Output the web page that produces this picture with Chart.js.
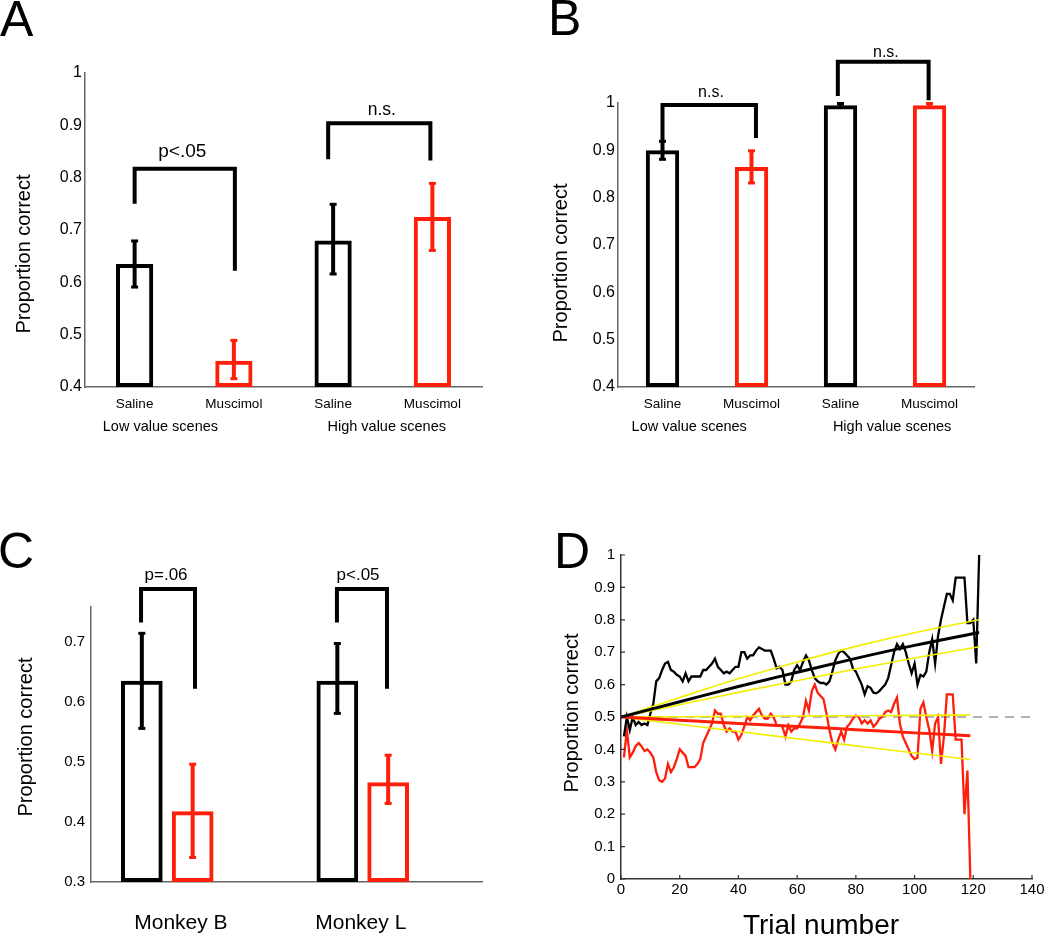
<!DOCTYPE html>
<html>
<head>
<meta charset="utf-8">
<script src="https://cdn.jsdelivr.net/npm/chart.js@4.4.0/dist/chart.umd.min.js"></script>
<style>
  body { margin: 0; background: #fff; }
  #fig { position: relative; width: 1050px; height: 937px; overflow: hidden; background: #fff; }
  canvas { position: absolute; }
  .letter { position: absolute; font: 50px/50px 'Liberation Sans', Arial, sans-serif; color: #000; }
</style>
</head>
<body>
<div id="fig">
  <canvas id="chartA" width="520" height="460" style="left:0;top:0"></canvas>
  <canvas id="chartB" width="530" height="460" style="left:520px;top:0"></canvas>
  <canvas id="chartC" width="520" height="417" style="left:0;top:520px"></canvas>
  <canvas id="chartD" width="530" height="417" style="left:520px;top:520px"></canvas>
  <div class="letter" style="left:0;top:-6px">A</div>
  <div class="letter" style="left:548px;top:-7px">B</div>
  <div class="letter" style="left:-2px;top:526px">C</div>
  <div class="letter" style="left:554px;top:526px">D</div>
</div>
<script>
// panels A and B: saline vs muscimol, low and high value scenes
const condLabels = ['Saline', 'Muscimol', 'Saline', 'Muscimol']
const propA = [0.635, 0.45, 0.68, 0.725]
const errLoA = [0.59, 0.415, 0.615, 0.66]
const errHiA = [0.68, 0.49, 0.75, 0.79]
const propB = [0.9, 0.865, 0.995, 0.995]
const errLoB = [0.88, 0.83, 0.99, 0.99]
const errHiB = [0.92, 0.9, 1.0, 1.0]
const yTicksAB = [0.4, 0.5, 0.6, 0.7, 0.8, 0.9, 1]

// panel C: per monkey
const monkeys = ['Monkey B', 'Monkey L']
const monkeyX = [1, 2]
const salineC = [0.635, 0.635]
const salineLoC = [0.555, 0.58]
const salineHiC = [0.715, 0.698]
const muscC = [0.418, 0.466]
const muscLoC = [0.34, 0.43]
const muscHiC = [0.497, 0.512]
const yTicksC = [0.3, 0.4, 0.5, 0.6, 0.7]

// panel D: running proportion correct by trial (trial 1..n)
const blackD = [
  0.44, 0.50, 0.46, 0.50, 0.475, 0.485, 0.475, 0.48, 0.475, 0.51,
  0.54, 0.61, 0.62, 0.645, 0.665, 0.67, 0.645, 0.64, 0.63, 0.625,
  0.61, 0.635, 0.61, 0.625, 0.625, 0.625, 0.625, 0.645, 0.645, 0.655,
  0.665, 0.68, 0.655, 0.645, 0.635, 0.64, 0.635, 0.645, 0.655, 0.655,
  0.70, 0.70, 0.68, 0.69, 0.69, 0.705, 0.715, 0.71, 0.705, 0.705,
  0.705, 0.68, 0.65, 0.655, 0.645, 0.60, 0.60, 0.61, 0.645, 0.66,
  0.645, 0.67, 0.69, 0.675, 0.645, 0.62, 0.61, 0.605, 0.605, 0.60,
  0.61, 0.64, 0.675, 0.695, 0.705, 0.70, 0.69, 0.68, 0.65, 0.64,
  0.62, 0.60, 0.57, 0.595, 0.59, 0.575, 0.573, 0.58, 0.59, 0.60,
  0.62, 0.66, 0.70, 0.725, 0.71, 0.725, 0.70, 0.665, 0.635, 0.665,
  0.60, 0.63, 0.625, 0.64, 0.70, 0.74, 0.665, 0.75, 0.80, 0.84,
  0.88, 0.88, 0.86, 0.93, 0.93, 0.93, 0.93, 0.79, 0.79, 0.80,
  0.665, 1.0,
]
const redD = [
  0.375, 0.46, 0.375, 0.39, 0.41, 0.42, 0.41, 0.395, 0.40, 0.39,
  0.375, 0.33, 0.305, 0.30, 0.31, 0.355, 0.33, 0.345, 0.37, 0.40,
  0.39, 0.38, 0.345, 0.345, 0.345, 0.355, 0.37, 0.42, 0.44, 0.46,
  0.48, 0.52, 0.51, 0.51, 0.475, 0.455, 0.465, 0.455, 0.455, 0.43,
  0.445, 0.47, 0.50, 0.49, 0.505, 0.515, 0.525, 0.505, 0.495, 0.495,
  0.51, 0.50, 0.475, 0.475, 0.47, 0.44, 0.475, 0.455, 0.465, 0.465,
  0.48, 0.50, 0.55, 0.52, 0.58, 0.60, 0.575, 0.565, 0.555, 0.51,
  0.46, 0.42, 0.40, 0.43, 0.455, 0.43, 0.47, 0.48, 0.495, 0.505,
  0.50, 0.48, 0.49, 0.48, 0.49, 0.47, 0.48, 0.495, 0.50, 0.515,
  0.52, 0.515, 0.54, 0.56, 0.48, 0.44, 0.42, 0.40, 0.38, 0.37,
  0.375, 0.525, 0.545, 0.50, 0.46, 0.395, 0.48, 0.50, 0.355, 0.44,
  0.57, 0.57, 0.57, 0.43, 0.43, 0.43, 0.20, 0.335, 0.0,
]
const fitTBlack = [0, 20, 40, 60, 80, 100, 122]
const fitBlack = [0.5, 0.547, 0.594, 0.638, 0.681, 0.721, 0.761]
const fitBlackHi = [0.5, 0.56, 0.618, 0.67, 0.718, 0.76, 0.80]
const fitBlackLo = [0.5, 0.538, 0.576, 0.612, 0.648, 0.682, 0.717]
const fitTRed = [0, 20, 40, 60, 80, 100, 119]
const fitRed = [0.5, 0.49, 0.48, 0.471, 0.461, 0.451, 0.442]
const fitRedHi = [0.5, 0.501, 0.502, 0.503, 0.504, 0.505, 0.506]
const fitRedLo = [0.5, 0.4775, 0.455, 0.433, 0.411, 0.389, 0.369]
const chanceT = [0, 140]
const chance = [0.5, 0.5]
const xTicksD = [0, 20, 40, 60, 80, 100, 120, 140]
const yTicksD = [0, 0.1, 0.2, 0.3, 0.4, 0.5, 0.6, 0.7, 0.8, 0.9, 1]

const FONT = "'Liberation Sans', Arial, sans-serif"
const RED = '#ff1e0a'
const AXIS = '#666'
Chart.defaults.font.family = FONT
Chart.defaults.color = '#000'

const pts = (xs, ys) => xs.map((x, i) => ({ x: x, y: ys[i] }))
const setTicks = (vals) => (s) => { s.ticks = vals.map((v) => ({ value: v })) }

// error bars, brackets, extra text, inward ticks
function overlay(cfg) {
  return {
    id: 'overlay',
    afterDraw(chart) {
      const ctx = chart.ctx
      const xs = chart.scales.x
      const ys = chart.scales.y
      ctx.save()
      chart.data.datasets.forEach((ds, i) => {
        if (!ds.errLo) return
        chart.getDatasetMeta(i).data.forEach((bar, j) => {
          const c = Array.isArray(ds.borderColor) ? ds.borderColor[j] : ds.borderColor
          const yHi = ys.getPixelForValue(ds.errHi[j])
          const yLo = ys.getPixelForValue(ds.errLo[j])
          ctx.strokeStyle = c
          ctx.fillStyle = c
          ctx.lineWidth = 4
          ctx.beginPath()
          ctx.moveTo(bar.x, yHi)
          ctx.lineTo(bar.x, yLo)
          ctx.stroke()
          ctx.fillRect(bar.x - 3.5, yHi - 1, 7, 3)
          ctx.fillRect(bar.x - 3.5, yLo - 2, 7, 3)
        })
      })
      ;(cfg.brackets || []).forEach((b) => {
        ctx.strokeStyle = '#000'
        ctx.lineWidth = 4
        ctx.lineJoin = 'miter'
        ctx.lineCap = 'butt'
        ctx.beginPath()
        ctx.moveTo(xs.getPixelForValue(b.x1), ys.getPixelForValue(b.y1))
        ctx.lineTo(xs.getPixelForValue(b.x1), ys.getPixelForValue(b.top))
        ctx.lineTo(xs.getPixelForValue(b.x2), ys.getPixelForValue(b.top))
        ctx.lineTo(xs.getPixelForValue(b.x2), ys.getPixelForValue(b.y2))
        ctx.stroke()
      })
      ;(cfg.texts || []).forEach((t) => {
        const x = t.xd !== undefined ? xs.getPixelForValue(t.xd) : t.x
        const y = t.yd !== undefined ? ys.getPixelForValue(t.yd) : t.y
        ctx.save()
        ctx.font = t.size + 'px ' + FONT
        ctx.fillStyle = '#000'
        ctx.textAlign = 'center'
        ctx.textBaseline = t.base || 'middle'
        ctx.translate(x, y)
        if (t.rot) ctx.rotate(t.rot)
        ctx.fillText(t.text, 0, 0)
        ctx.restore()
      })
      if (cfg.inTicks) {
        const a = chart.chartArea
        ctx.strokeStyle = '#333'
        ctx.lineWidth = 1.2
        ctx.beginPath()
        xs.ticks.forEach((t) => {
          const px = xs.getPixelForValue(t.value)
          ctx.moveTo(px, a.bottom)
          ctx.lineTo(px, a.bottom - 4)
        })
        ys.ticks.forEach((t) => {
          const py = ys.getPixelForValue(t.value)
          ctx.moveTo(a.left, py)
          ctx.lineTo(a.left + 4, py)
        })
        ctx.stroke()
      }
      ctx.restore()
    },
  }
}

const barColors = ['#000', RED, '#000', RED]
const noGrid = { display: false, drawTicks: false }
const axisBorder = { display: true, color: AXIS, width: 1.5 }
const baseOpts = {
  responsive: false,
  animation: false,
  plugins: { legend: { display: false }, tooltip: { enabled: false } },
}

function sceneChart(id, props, lo, hi, padding, yWidth, extra) {
  return new Chart(id, {
    type: 'bar',
    data: {
      labels: condLabels,
      datasets: [
        {
          data: props,
          errLo: lo,
          errHi: hi,
          base: 0.4,
          borderColor: barColors,
          backgroundColor: 'rgba(255,255,255,0)',
          borderWidth: 4,
          borderSkipped: false,
          categoryPercentage: 1,
          barPercentage: 0.375,
        },
      ],
    },
    options: {
      ...baseOpts,
      layout: { padding: padding },
      scales: {
        x: {
          grid: noGrid,
          border: axisBorder,
          ticks: { font: { size: 13.5 }, padding: 9, maxRotation: 0 },
          afterFit: (s) => { s.height = 73 },
        },
        y: {
          min: 0.4,
          max: 1,
          grid: noGrid,
          border: axisBorder,
          afterBuildTicks: setTicks(yTicksAB),
          ticks: { font: { size: 16 }, padding: 3, callback: (v) => String(v) },
          afterFit: (s) => { s.width = yWidth },
        },
      },
    },
    plugins: [overlay(extra)],
  })
}

sceneChart('chartA', propA, errLoA, errHiA, { left: 0, right: 38, top: 73, bottom: 0 }, 85, {
  brackets: [
    { x1: 0, x2: 1.01, y1: 0.75, top: 0.817, y2: 0.622 },
    { x1: 1.95, x2: 2.98, y1: 0.835, top: 0.904, y2: 0.833 },
  ],
  texts: [
    { text: 'Proportion correct', x: 24, y: 254, size: 20, rot: -Math.PI / 2 },
    { text: 'Low value scenes', xd: 0.26, y: 427, size: 14.5 },
    { text: 'High value scenes', xd: 2.54, y: 427, size: 14.5 },
    { text: 'p<.05', xd: 0.48, yd: 0.839, size: 19, base: 'alphabetic' },
    { text: 'n.s.', xd: 2.49, yd: 0.92, size: 17.5, base: 'alphabetic' },
  ],
})

sceneChart('chartB', propB, errLoB, errHiB, { left: 0, right: 76, top: 103, bottom: 0 }, 98, {
  brackets: [
    { x1: 0, x2: 1.05, y1: 0.92, top: 0.996, y2: 0.926 },
    { x1: 1.97, x2: 2.99, y1: 1.015, top: 1.087, y2: 1.006 },
  ],
  texts: [
    { text: 'Proportion correct', x: 41, y: 263, size: 20, rot: -Math.PI / 2 },
    { text: 'Low value scenes', xd: 0.3, y: 427, size: 14.5 },
    { text: 'High value scenes', xd: 2.58, y: 427, size: 14.5 },
    { text: 'n.s.', xd: 0.545, yd: 1.013, size: 16, base: 'alphabetic' },
    { text: 'n.s.', xd: 2.51, yd: 1.097, size: 16, base: 'alphabetic' },
  ],
})

new Chart('chartC', {
  type: 'bar',
  data: {
    datasets: [
      {
        data: pts(monkeyX, salineC),
        errLo: salineLoC,
        errHi: salineHiC,
        base: 0.3,
        borderColor: '#000',
        backgroundColor: 'rgba(255,255,255,0)',
        borderWidth: 4,
        borderSkipped: false,
        categoryPercentage: 0.52,
        barPercentage: 0.82,
      },
      {
        data: pts(monkeyX, muscC),
        errLo: muscLoC,
        errHi: muscHiC,
        base: 0.3,
        borderColor: RED,
        backgroundColor: 'rgba(255,255,255,0)',
        borderWidth: 4,
        borderSkipped: false,
        categoryPercentage: 0.52,
        barPercentage: 0.82,
      },
    ],
  },
  options: {
    ...baseOpts,
    layout: { padding: { left: 0, right: 38, top: 87, bottom: 0 } },
    scales: {
      x: {
        type: 'linear',
        min: 0.61,
        max: 2.61,
        offset: false,
        grid: noGrid,
        border: axisBorder,
        afterBuildTicks: setTicks(monkeyX),
        ticks: { display: false },
        afterFit: (s) => { s.height = 55 },
      },
      y: {
        min: 0.3,
        max: 0.758,
        grid: noGrid,
        border: axisBorder,
        afterBuildTicks: setTicks(yTicksC),
        ticks: { font: { size: 15 }, padding: 6, callback: (v) => String(v) },
        afterFit: (s) => { s.width = 91 },
      },
    },
  },
  plugins: [
    overlay({
      brackets: [
        { x1: 0.866, x2: 1.142, y1: 0.732, top: 0.788, y2: 0.622 },
        { x1: 1.868, x2: 2.124, y1: 0.732, top: 0.788, y2: 0.622 },
      ],
      texts: [
        { text: 'Proportion correct', x: 26, y: 217, size: 20, rot: -Math.PI / 2 },
        { text: 'p=.06', xd: 0.994, yd: 0.803, size: 17, base: 'alphabetic' },
        { text: 'p<.05', xd: 1.976, yd: 0.803, size: 17, base: 'alphabetic' },
        { text: monkeys[0], xd: 1.07, y: 403, size: 21 },
        { text: monkeys[1], xd: 1.99, y: 403, size: 21 },
      ],
    }),
  ],
})

const blackTrials = blackD.map((v, i) => ({ x: i + 1, y: v }))
const redTrials = redD.map((v, i) => ({ x: i + 1, y: v }))
const fitLine = (color, width) => ({
  borderColor: color,
  borderWidth: width,
  pointRadius: 0,
  cubicInterpolationMode: 'monotone',
  fill: false,
})

new Chart('chartD', {
  type: 'line',
  data: {
    datasets: [
      { data: pts(fitTBlack, fitBlack), ...fitLine('#000', 3) },
      { data: pts(fitTRed, fitRed), ...fitLine(RED, 3) },
      { data: pts(fitTBlack, fitBlackHi), ...fitLine('#f2ee00', 1.6) },
      { data: pts(fitTBlack, fitBlackLo), ...fitLine('#f2ee00', 1.6) },
      { data: pts(fitTRed, fitRedHi), ...fitLine('#f2ee00', 1.6) },
      { data: pts(fitTRed, fitRedLo), ...fitLine('#f2ee00', 1.6) },
      { data: blackTrials, borderColor: '#000', borderWidth: 2.3, pointRadius: 0, tension: 0, fill: false },
      { data: redTrials, borderColor: RED, borderWidth: 2.3, pointRadius: 0, tension: 0, fill: false },
      {
        data: pts(chanceT, chance),
        borderColor: '#9a9a9a',
        borderWidth: 1.5,
        borderDash: [9, 7],
        pointRadius: 0,
        fill: false,
      },
    ],
  },
  options: {
    ...baseOpts,
    layout: { padding: { left: 0, right: 18, top: 35, bottom: 0 } },
    scales: {
      x: {
        type: 'linear',
        min: 0,
        max: 140,
        grid: noGrid,
        border: { display: true, color: '#333', width: 1.5 },
        afterBuildTicks: setTicks(xTicksD),
        ticks: { font: { size: 15 }, padding: 2, maxRotation: 0, callback: (v) => String(v) },
        afterFit: (s) => { s.height = 58 },
      },
      y: {
        min: 0,
        max: 1,
        grid: noGrid,
        border: { display: true, color: '#333', width: 1.5 },
        afterBuildTicks: setTicks(yTicksD),
        ticks: { font: { size: 15 }, padding: 6, callback: (v) => String(v) },
        afterFit: (s) => { s.width = 101 },
      },
    },
  },
  plugins: [
    overlay({
      inTicks: true,
      texts: [
        { text: 'Proportion correct', x: 52, y: 193, size: 20, rot: -Math.PI / 2 },
        { text: 'Trial number', x: 301, y: 406, size: 28 },
      ],
    }),
  ],
})
</script>
</body>
</html>
